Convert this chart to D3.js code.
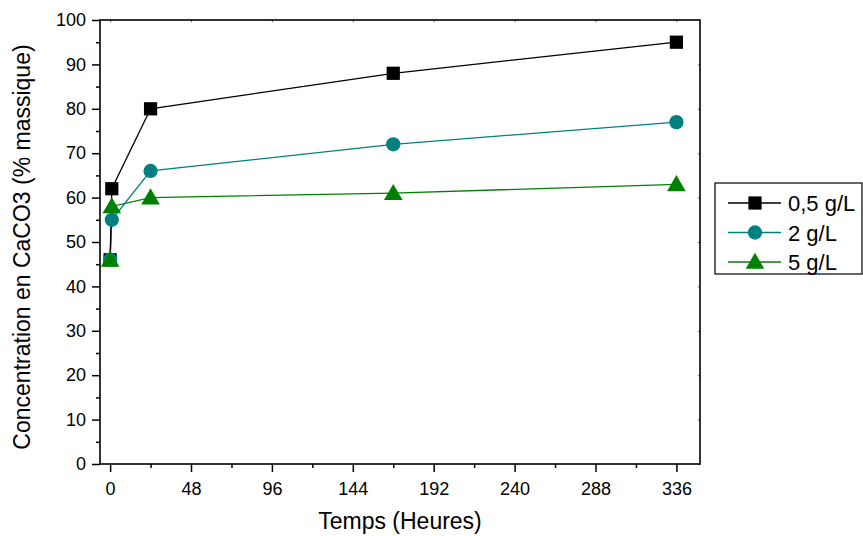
<!DOCTYPE html>
<html><head><meta charset="utf-8">
<script src="https://cdn.jsdelivr.net/npm/d3@7"></script>
<style>body{margin:0;background:#fff}svg{display:block;font-family:"Liberation Sans",Arial,sans-serif}</style>
</head><body><svg id="c" width="863" height="536"></svg>
<script>
const times05 = [0, 1, 24, 168, 336];
const vals05 = [46, 62, 80, 88, 95];
const times2 = [0, 1, 24, 168, 336];
const vals2 = [46, 55, 66, 72, 77];
const times5 = [0, 1, 24, 168, 336];
const vals5 = [46, 58, 60, 61, 63];
const seriesNames = ["0,5 g/L", "2 g/L", "5 g/L"];
const xTicks = [0, 48, 96, 144, 192, 240, 288, 336];
const yTicks = [0, 10, 20, 30, 40, 50, 60, 70, 80, 90, 100];

const svg = d3.select("#c");
const L = 100, R = 700, T = 20, B = 464;
const x = d3.scaleLinear().domain([-6, 350]).range([L, R]);
const y = d3.scaleLinear().domain([0, 100]).range([B, T]);
const FF = "Liberation Sans, Arial, sans-serif";

function styleAxis(g) {
  g.select(".domain").remove();
  g.selectAll("line").attr("stroke-width", 1.5);
  g.selectAll("text").attr("font-size", 18).attr("font-family", FF).attr("fill", "#000");
}

// x axis
svg.append("g").attr("transform", `translate(0,${B})`)
  .call(d3.axisBottom(x).tickValues(xTicks).tickSize(8).tickPadding(10).tickFormat(d3.format("d"))).call(styleAxis);
svg.append("g").attr("transform", `translate(0,${B})`)
  .call(d3.axisBottom(x).tickValues(d3.range(24, 350, 48)).tickSize(4).tickFormat("")).call(styleAxis);
// mirrored small inward ticks on top
svg.append("g").attr("transform", `translate(0,${T})`)
  .call(d3.axisBottom(x).tickValues(xTicks).tickSize(2).tickFormat("")).call(styleAxis)
  .selectAll("line").attr("stroke", "#666").attr("stroke-width", 1);

// y axis
svg.append("g").attr("transform", `translate(${L},0)`)
  .call(d3.axisLeft(y).tickValues(yTicks).tickSize(8).tickPadding(6)).call(styleAxis);
svg.append("g").attr("transform", `translate(${L},0)`)
  .call(d3.axisLeft(y).tickValues(d3.range(5, 100, 10)).tickSize(4).tickFormat("")).call(styleAxis);
svg.append("g").attr("transform", `translate(${R},0)`)
  .call(d3.axisLeft(y).tickValues(yTicks).tickSize(2).tickFormat("")).call(styleAxis)
  .selectAll("line").attr("stroke", "#666").attr("stroke-width", 1);

// frame
svg.append("rect").attr("x", L).attr("y", T).attr("width", R - L).attr("height", B - T)
  .attr("fill", "none").attr("stroke", "#000").attr("stroke-width", 1.6);

// titles
svg.append("text").attr("x", 400).attr("y", 529).attr("text-anchor", "middle")
  .attr("font-size", 23).text("Temps (Heures)");
svg.append("text").attr("transform", `translate(30,247) rotate(-90)`)
  .attr("text-anchor", "middle").attr("font-size", 23).text("Concentration en CaCO3 (% massique)");

const series = [
  {name: seriesNames[0], t: times05, v: vals05, color: "#000000", sym: d3.symbolSquare, size: 175},
  {name: seriesNames[1], t: times2, v: vals2, color: "#008080", sym: d3.symbolCircle, size: 160},
  {name: seriesNames[2], t: times5, v: vals5, color: "#008000", sym: d3.symbolTriangle, size: 150}
];
const line = d3.line().x(d => x(d[0])).y(d => y(d[1]));
series.slice().reverse().forEach(s => {
  const pts = s.t.map((t, i) => [t, s.v[i]]);
  svg.append("path").attr("d", line(pts)).attr("fill", "none").attr("stroke", s.color).attr("stroke-width", 1.3);
});
series.forEach(s => {
  const pts = s.t.map((t, i) => [t, s.v[i]]);
  svg.append("g").selectAll("path").data(pts).join("path")
    .attr("transform", d => `translate(${x(d[0])},${y(d[1]) + (s.sym === d3.symbolTriangle ? 1.5 : 0)})`)
    .attr("d", d3.symbol().type(s.sym).size(s.size)).attr("fill", s.color);
});

// legend
const lg = svg.append("g");
lg.append("rect").attr("x", 715).attr("y", 183).attr("width", 147).attr("height", 91)
  .attr("fill", "#fff").attr("stroke", "#000").attr("stroke-width", 1.2);
series.forEach((s, i) => {
  const cy = 203 + i * 29.5;
  lg.append("line").attr("x1", 728).attr("x2", 781).attr("y1", cy).attr("y2", cy)
    .attr("stroke", s.color).attr("stroke-width", 1.3);
  lg.append("path").attr("transform", `translate(755,${cy + (s.sym === d3.symbolTriangle ? 1.5 : 0)})`)
    .attr("d", d3.symbol().type(s.sym).size(s.size)).attr("fill", s.color);
  lg.append("text").attr("x", 788).attr("y", cy + 8).attr("font-size", 22).text(s.name);
});
</script></body></html>
